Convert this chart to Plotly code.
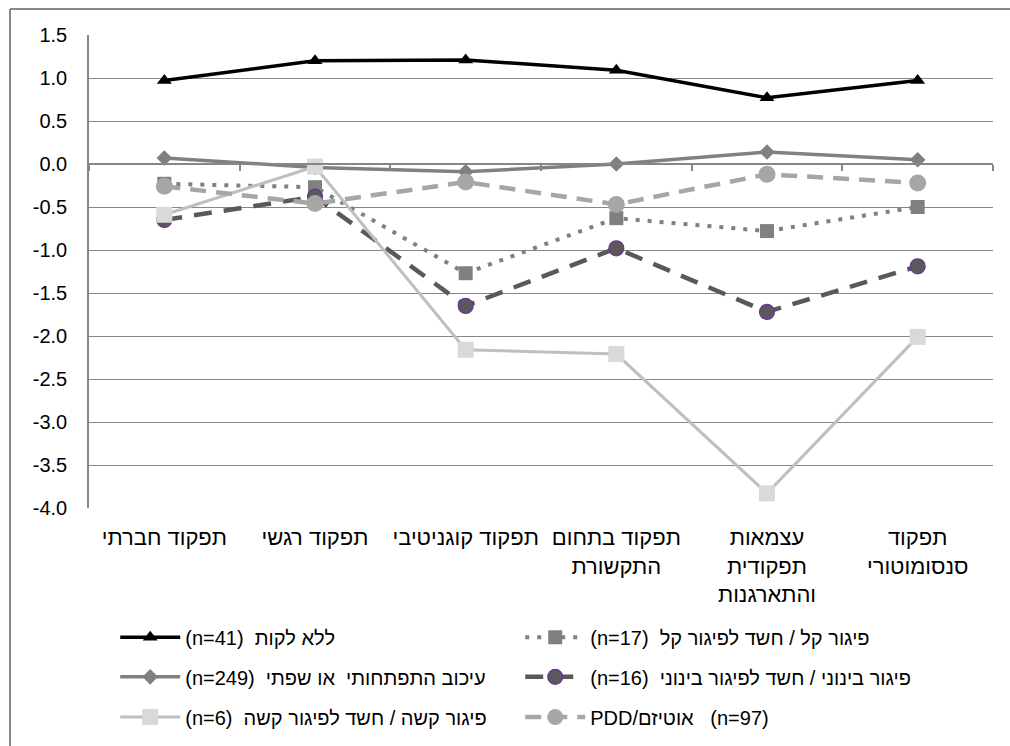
import plotly.graph_objects as go

# Functional domains (left to right)
categories = [
    "תפקוד חברתי",
    "תפקוד רגשי",
    "תפקוד קוגניטיבי",
    "תפקוד בתחום<br>התקשורת",
    "עצמאות<br>תפקודית<br>והתארגנות",
    "תפקוד<br>סנסומוטורי",
]

# Mean standardized scores per group
no_impairment = [0.97, 1.20, 1.21, 1.09, 0.77, 0.97]
dev_delay = [0.07, -0.04, -0.09, 0.00, 0.14, 0.05]
mild_id = [-0.23, -0.27, -1.27, -0.63, -0.78, -0.50]
moderate_id = [-0.65, -0.38, -1.65, -0.98, -1.72, -1.19]
severe_id = [-0.59, -0.03, -2.16, -2.21, -3.83, -2.01]
pdd_autism = [-0.26, -0.46, -0.21, -0.47, -0.12, -0.22]

# Y-axis tick values and their labels (plain hyphen for negatives)
y_ticks = [1.5, 1.0, 0.5, 0.0, -0.5, -1.0, -1.5, -2.0, -2.5, -3.0, -3.5, -4.0]
y_tick_labels = [f"{v:.1f}" for v in y_ticks]

# Legend labels
name_none = "(n=41)  ללא לקות"
name_delay = "(n=249)  עיכוב התפתחותי  או שפתי"
name_mild = "(n=17)  פיגור קל / חשד לפיגור קל"
name_moderate = "(n=16)  פיגור בינוני / חשד לפיגור בינוני"
name_severe = "(n=6)  פיגור קשה / חשד לפיגור קשה"
name_pdd = "PDD/אוטיזם   (n=97)"

FONT = "Liberation Sans, DejaVu Sans, sans-serif"
X_RANGE = [-0.5, len(categories) - 0.5]

fig = go.Figure()

fig.add_trace(go.Scatter(
    x=categories, y=no_impairment, name=name_none, mode="lines+markers",
    line=dict(color="#000000", width=3.5),
    marker=dict(symbol="triangle-up", size=13, color="#000000"),
    legend="legend",
))
fig.add_trace(go.Scatter(
    x=categories, y=dev_delay, name=name_delay, mode="lines+markers",
    line=dict(color="#808080", width=3.5),
    marker=dict(symbol="diamond", size=12, color="#808080"),
    legend="legend2",
))
fig.add_trace(go.Scatter(
    x=categories, y=mild_id, name=name_mild, mode="lines+markers",
    line=dict(color="#808080", width=4, dash="4px,8px"),
    marker=dict(symbol="square", size=14, color="#808080"),
    legend="legend",
))
fig.add_trace(go.Scatter(
    x=categories, y=moderate_id, name=name_moderate, mode="lines+markers",
    line=dict(color="#595959", width=4.5, dash="18px,12px"),
    marker=dict(symbol="circle", size=15, color="#595959",
                line=dict(color="#7030a0", width=1.2)),
    legend="legend2",
))
fig.add_trace(go.Scatter(
    x=categories, y=severe_id, name=name_severe, mode="lines+markers",
    line=dict(color="#bfbfbf", width=3),
    marker=dict(symbol="square", size=16, color="#d9d9d9"),
    legend="legend3",
))
fig.add_trace(go.Scatter(
    x=categories, y=pdd_autism, name=name_pdd, mode="lines+markers",
    line=dict(color="#a6a6a6", width=4.5, dash="16px,10px"),
    marker=dict(symbol="circle", size=17, color="#a6a6a6"),
    legend="legend3",
))

# Horizontal axis line crossing at zero with ticks on category boundaries
fig.add_trace(go.Scatter(x=categories, y=[None] * len(categories),
                         xaxis="x2", showlegend=False, hoverinfo="skip"))

legend_common = dict(
    orientation="h", xanchor="left", yanchor="middle",
    entrywidth=330, entrywidthmode="pixels",
    font=dict(family=FONT, size=20, color="#000000"),
    bgcolor="rgba(0,0,0,0)", itemwidth=60,
)

fig.update_layout(
    width=1010, height=746,
    margin=dict(l=89, r=17, t=35, b=238, autoexpand=False),
    paper_bgcolor="#ffffff", plot_bgcolor="#ffffff",
    font=dict(family=FONT, size=19, color="#000000"),
    xaxis=dict(
        type="category", categoryorder="array", categoryarray=categories,
        range=X_RANGE,
        showgrid=False, showline=False, ticks="", zeroline=False,
        tickfont=dict(family=FONT, size=22, color="#000000"),
        ticklabelstandoff=14,
    ),
    xaxis2=dict(
        type="category", categoryorder="array", categoryarray=categories,
        range=X_RANGE,
        overlaying="x", anchor="free", position=4.0 / 5.5,
        showline=True, linecolor="#868686", linewidth=1.5,
        ticks="outside", ticklen=6, tickcolor="#868686", tickwidth=1.5,
        tickson="boundaries", showticklabels=False, showgrid=False,
        zeroline=False,
    ),
    yaxis=dict(
        range=[-4.0, 1.5], tickmode="array",
        tickvals=y_ticks, ticktext=y_tick_labels,
        showgrid=True, gridcolor="#868686", gridwidth=1.3,
        showline=True, linecolor="#868686", linewidth=1.5,
        zeroline=False, ticks="", ticklabelstandoff=16,
        tickfont=dict(family=FONT, size=20, color="#000000"),
    ),
    legend=dict(x=0.029, y=-0.273, **legend_common),
    legend2=dict(x=0.029, y=-0.357, **legend_common),
    legend3=dict(x=0.029, y=-0.442, **legend_common),
    shapes=[
        dict(type="line", xref="paper", yref="paper",
             x0=-0.0874, x1=1.02, y0=1.055, y1=1.055,
             line=dict(color="#888888", width=2)),
        dict(type="line", xref="paper", yref="paper",
             x0=-0.0874, x1=-0.0874, y0=1.055, y1=-0.51,
             line=dict(color="#888888", width=2)),
    ],
    showlegend=True,
)

fig.write_html("out.html")
